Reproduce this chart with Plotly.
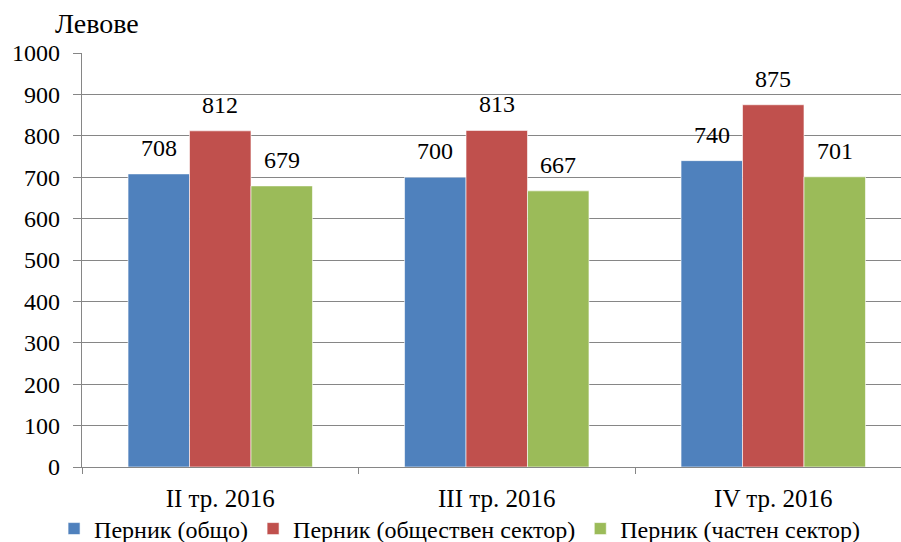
import plotly.graph_objects as go

categories = ["II тр. 2016", "III тр. 2016", "IV тр. 2016"]
series_names = ["Перник (общо)", "Перник (обществен сектор)", "Перник (частен сектор)"]
total = [708, 700, 740]
public = [812, 813, 875]
private = [679, 667, 701]
colors = ["#4F81BD", "#C0504D", "#9BBB59"]
y_ticks = list(range(0, 1001, 100))

FONT = "Times New Roman, Liberation Serif, serif"
W, H = 901, 542
ML, MR, MT, MB = 82, 0, 53, 75
X_RANGE = [-0.5, 2.462]
BARGAP = 0.333

fig = go.Figure()
all_series = [total, public, private]
for name, vals, col in zip(series_names, all_series, colors):
    fig.add_trace(go.Bar(
        x=categories, y=vals, name=name,
        marker=dict(color=col, line=dict(color="white", width=0.6)),
    ))

# data labels placed above each bar (shift derived from the bar layout)
px_per_cat = (W - ML - MR) / (X_RANGE[1] - X_RANGE[0])
bar_px = px_per_cat * (1 - BARGAP) / len(all_series)
for i, vals in enumerate(all_series):
    for cat, v in zip(categories, vals):
        fig.add_annotation(
            x=cat, y=v, text=str(v), showarrow=False,
            xshift=(i - 1) * bar_px, yshift=11, yanchor="bottom",
            font=dict(family=FONT, size=24, color="black"),
        )

fig.update_layout(
    width=W, height=H,
    paper_bgcolor="white", plot_bgcolor="white",
    barmode="group", bargap=BARGAP, bargroupgap=0,
    margin=dict(l=ML, r=MR, t=MT, b=MB, autoexpand=False),
    font=dict(family=FONT, size=24, color="black"),
    legend=dict(orientation="h", xref="container", yref="container",
                x=0.06, xanchor="left", y=0.024, yanchor="middle",
                bgcolor="rgba(0,0,0,0)",
                font=dict(family=FONT, size=24), itemwidth=30, tracegroupgap=0,
                itemclick=False),
    showlegend=True,
)
fig.update_xaxes(
    type="category", range=X_RANGE, automargin=False,
    showline=True, linecolor="#868686", linewidth=1.3,
    ticks="outside", tickson="boundaries", ticklen=6, tickcolor="#868686",
    tickfont=dict(family=FONT, size=25), showgrid=False,
    ticklabelstandoff=9,
)
fig.update_yaxes(
    range=[0, 1000], tickvals=y_ticks, automargin=False,
    showline=True, linecolor="#868686", linewidth=1.3,
    ticks="outside", ticklen=8, tickcolor="#868686",
    showgrid=True, gridcolor="#868686", gridwidth=1.3,
    tickfont=dict(family=FONT, size=24), zeroline=False,
    ticklabelstandoff=8,
)
fig.add_annotation(text="Левове", xref="paper", yref="paper", x=-0.036, y=1.028,
                   xanchor="left", yanchor="bottom", showarrow=False,
                   font=dict(family=FONT, size=28, color="black"))

fig.write_html(
    "out.html",
    config={"displayModeBar": False},
    post_script="document.body.style.margin='0';document.body.style.overflow='hidden';"
                "document.documentElement.style.overflow='hidden';",
)
